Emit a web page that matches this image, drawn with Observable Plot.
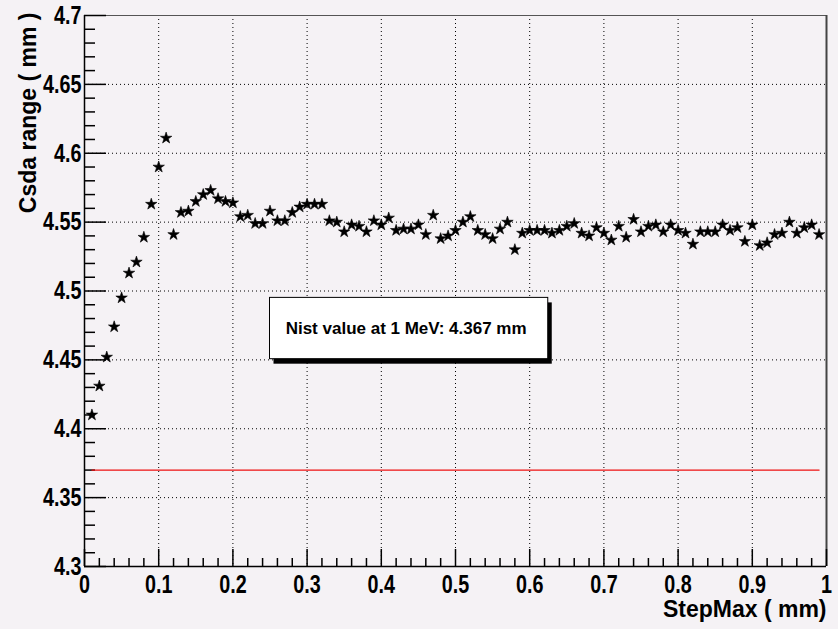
<!DOCTYPE html>
<html>
<head>
<meta charset="utf-8">
<script src="https://cdn.jsdelivr.net/npm/d3@7"></script>
<script src="https://cdn.jsdelivr.net/npm/@observablehq/plot@0.6"></script>
<style>
  html, body { margin: 0; padding: 0; background: #f5f2f5; }
  #chart { width: 838px; height: 629px; }
</style>
</head>
<body>
<div id="chart"></div>
<script>
// ---- data ----
const stepMax = [
  0.01,0.02,0.03,0.04,0.05,0.06,0.07,0.08,0.09,0.10,
  0.11,0.12,0.13,0.14,0.15,0.16,0.17,0.18,0.19,0.20,
  0.21,0.22,0.23,0.24,0.25,0.26,0.27,0.28,0.29,0.30,
  0.31,0.32,0.33,0.34,0.35,0.36,0.37,0.38,0.39,0.40,
  0.41,0.42,0.43,0.44,0.45,0.46,0.47,0.48,0.49,0.50,
  0.51,0.52,0.53,0.54,0.55,0.56,0.57,0.58,0.59,0.60,
  0.61,0.62,0.63,0.64,0.65,0.66,0.67,0.68,0.69,0.70,
  0.71,0.72,0.73,0.74,0.75,0.76,0.77,0.78,0.79,0.80,
  0.81,0.82,0.83,0.84,0.85,0.86,0.87,0.88,0.89,0.90,
  0.91,0.92,0.93,0.94,0.95,0.96,0.97,0.98,0.99
];
const csdaRange = [
  4.410,4.431,4.452,4.474,4.495,4.513,4.521,4.539,4.563,4.590,
  4.611,4.541,4.557,4.558,4.565,4.570,4.573,4.567,4.565,4.564,
  4.554,4.555,4.549,4.549,4.558,4.551,4.551,4.557,4.561,4.563,
  4.563,4.563,4.551,4.550,4.543,4.548,4.547,4.543,4.551,4.548,
  4.553,4.544,4.545,4.545,4.548,4.541,4.555,4.538,4.540,4.544,
  4.550,4.554,4.544,4.541,4.538,4.545,4.550,4.530,4.542,4.544,
  4.544,4.544,4.542,4.544,4.547,4.549,4.542,4.540,4.546,4.542,
  4.537,4.547,4.539,4.552,4.543,4.547,4.548,4.543,4.548,4.544,
  4.542,4.534,4.543,4.543,4.543,4.548,4.544,4.546,4.536,4.548,
  4.533,4.535,4.541,4.542,4.550,4.542,4.546,4.548,4.541
];
const nistX = [0.01, 0.99];
const nistValue = 4.37;
const nistLabel = "Nist value at 1 MeV: 4.367 mm";
const boxX = [0.25, 0.625];
const boxY = [4.4505, 4.495];

const xTicks = [0,0.1,0.2,0.3,0.4,0.5,0.6,0.7,0.8,0.9,1];
const xTickLabels = ["0","0.1","0.2","0.3","0.4","0.5","0.6","0.7","0.8","0.9","1"];
const yTicks = [4.3,4.35,4.4,4.45,4.5,4.55,4.6,4.65,4.7];
const yTickLabels = ["4.3","4.35","4.4","4.45","4.5","4.55","4.6","4.65","4.7"];
const xMinor = d3.range(0, 51).map(i => i / 50).filter(v => Math.round(v * 50) % 5 !== 0);
const yMinor = d3.range(430, 471).map(i => i / 100).filter(v => Math.round(v * 100) % 5 !== 0);
const xTitle = "StepMax ( mm)";
const yTitle = "Csda range ( mm )";

const points = stepMax.map((x, i) => ({x, y: csdaRange[i]}));
const nistLine = nistX.map(x => ({x, y: nistValue}));
const box = [{x1: boxX[0], x2: boxX[1], y1: boxY[0], y2: boxY[1]}];

const FONT = "'Liberation Sans', Arial, Helvetica, sans-serif";

const chart = Plot.plot({
  width: 838,
  height: 629,
  marginLeft: 84,
  marginRight: 12,
  marginTop: 15,
  marginBottom: 63,
  style: {background: "#f5f2f5", fontFamily: FONT, color: "black"},
  x: {domain: [0, 1], axis: null},
  y: {domain: [4.3, 4.7], axis: null},
  marks: [
    // dotted grid
    Plot.ruleX(xTicks.slice(1, -1), {stroke: "black", strokeWidth: 1, strokeDasharray: "1,3"}),
    Plot.ruleY(yTicks.slice(1, -1), {stroke: "black", strokeWidth: 1, strokeDasharray: "1,3"}),
    // frame
    Plot.ruleY([4.7], {stroke: "#555", strokeWidth: 1}),
    Plot.ruleX([1], {stroke: "#444", strokeWidth: 2}),
    Plot.ruleX([0], {stroke: "black", strokeWidth: 1.5}),
    Plot.ruleY([4.3], {stroke: "black", strokeWidth: 1.5}),
    // ticks (inward)
    Plot.axisX(xTicks, {anchor: "bottom", tickSize: -17, text: null, stroke: "black", strokeWidth: 1.5}),
    Plot.axisX(xMinor, {anchor: "bottom", tickSize: -8, text: null, stroke: "black", strokeWidth: 1.5}),
    Plot.axisY(yTicks, {anchor: "left", tickSize: -22, text: null, stroke: "black", strokeWidth: 1.5}),
    Plot.axisY(yMinor, {anchor: "left", tickSize: -11, text: null, stroke: "black", strokeWidth: 1.5}),
    // tick labels
    Plot.axisX(xTicks, {anchor: "bottom", tickSize: 0, tickPadding: 8, label: null,
      tickFormat: (d, i) => xTickLabels[i], fontSize: 26, fontWeight: "bold", fill: "black"}),
    Plot.axisY(yTicks, {anchor: "left", tickSize: 0, tickPadding: 3, label: null,
      tickFormat: (d, i) => yTickLabels[i], fontSize: 26, fontWeight: "bold", fill: "black"}),
    // axis titles
    Plot.text([xTitle], {text: d => d, frameAnchor: "bottom-right", textAnchor: "end", lineAnchor: "middle",
      dy: 43, dx: 0, fontSize: 23, fontWeight: "bold", fill: "black"}),
    Plot.text([yTitle], {text: d => d, frameAnchor: "top-left", textAnchor: "end", lineAnchor: "bottom",
      rotate: -90, dx: -49, dy: -3, fontSize: 23, fontWeight: "bold", fill: "black"}),
    // NIST reference line
    Plot.line(nistLine, {x: "x", y: "y", stroke: "#ee1111", strokeWidth: 1.3}),
    // data points
    Plot.dot(points, {x: "x", y: "y", symbol: "star", r: 3.6, fill: "black", stroke: "black", strokeWidth: 0.6}),
    // annotation box with shadow
    Plot.rect(box, {x1: "x1", x2: "x2", y1: "y1", y2: "y2", fill: "black", dx: 4, dy: 5}),
    Plot.rect(box, {x1: "x1", x2: "x2", y1: "y1", y2: "y2", fill: "white", stroke: "black", strokeWidth: 1}),
    Plot.text(box, {x: d => (d.x1 + d.x2) / 2, y: d => (d.y1 + d.y2) / 2, text: () => nistLabel,
      fontSize: 17, fontWeight: "bold", fill: "black", dx: -3})
  ]
});

// narrow the tick-label glyphs like the original bitmap font
chart.querySelectorAll('g[aria-label="x-axis tick label"] text, g[aria-label="y-axis tick label"] text').forEach(t => {
  const tr = t.getAttribute("transform");
  if (tr) {
    t.setAttribute("transform", tr + " scale(0.76,1)");
  } else {
    const x = +t.getAttribute("x") || 0, y = +t.getAttribute("y") || 0;
    t.removeAttribute("x"); t.removeAttribute("y");
    t.setAttribute("transform", `translate(${x},${y}) scale(0.76,1)`);
  }
});

document.getElementById("chart").appendChild(chart);
</script>
</body>
</html>
